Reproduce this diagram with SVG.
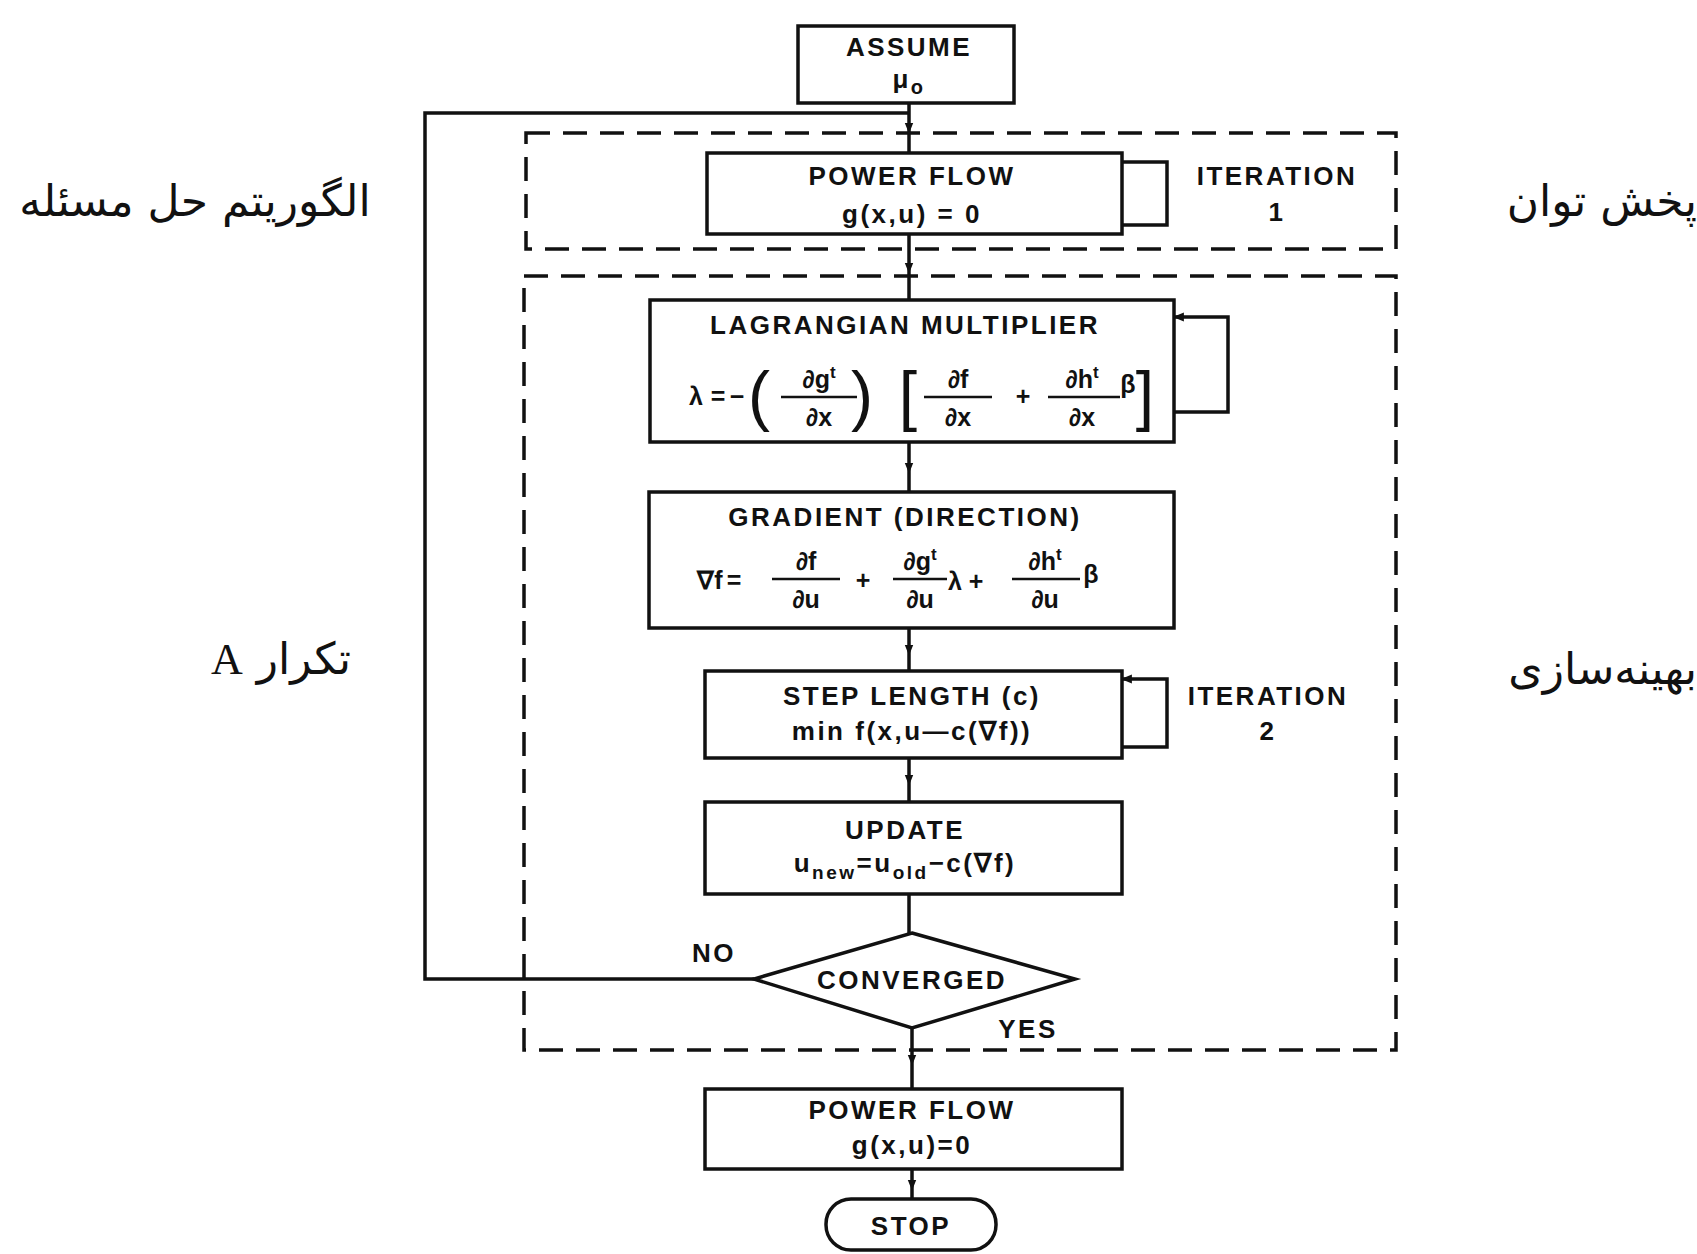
<svg xmlns="http://www.w3.org/2000/svg" width="1697" height="1254" viewBox="0 0 1697 1254">
<defs>
<marker id="ahm" viewBox="0 0 10 10" refX="5" refY="5" markerWidth="11" markerHeight="11" orient="auto" markerUnits="userSpaceOnUse">
<path d="M0,1 L10,5 L0,9 z" fill="#111"/>
</marker>
<marker id="ahl" viewBox="0 0 10 10" refX="9" refY="5" markerWidth="14" markerHeight="11" orient="auto" markerUnits="userSpaceOnUse">
<path d="M0,1 L10,5 L0,9 z" fill="#111"/>
</marker>
</defs>
<style>
.box{fill:#fff;stroke:#111;stroke-width:3.5}
.dash{fill:none;stroke:#111;stroke-width:3.5;stroke-dasharray:24 13}
.ln{fill:none;stroke:#111;stroke-width:3.5}
.t{font-family:"Liberation Sans",Arial,sans-serif;font-weight:bold;font-size:26px;letter-spacing:2.5px;fill:#111;text-anchor:middle}
.m{font-family:"Liberation Sans",Arial,sans-serif;font-weight:bold;font-size:25px;fill:#111;text-anchor:middle}
.d{font-family:"Liberation Sans",Arial,sans-serif;font-weight:normal;font-size:66px;fill:#111;text-anchor:middle}
.fl{stroke:#111;stroke-width:2.5}
.fa{font-family:"DejaVu Sans",sans-serif;font-size:44px;fill:#111}
</style>
<rect width="1697" height="1254" fill="#fff"/>

<g id="connectors">
<path class="ln" d="M909,103 L909,128 L909,153" marker-mid="url(#ahm)"/>
<path class="ln" d="M909,234 L909,268 L909,300" marker-mid="url(#ahm)"/>
<path class="ln" d="M909,442 L909,468 L909,492" marker-mid="url(#ahm)"/>
<path class="ln" d="M909,628 L909,650 L909,671" marker-mid="url(#ahm)"/>
<path class="ln" d="M909,758 L909,780 L909,802" marker-mid="url(#ahm)"/>
<path class="ln" d="M909,894 L909,914 L909,933"/>
<path class="ln" d="M912,1028 L912,1060 L912,1089" marker-mid="url(#ahm)"/>
<path class="ln" d="M912,1169 L912,1185 L912,1199" marker-mid="url(#ahm)"/>
<path class="ln" d="M754,979 L425,979 L425,113 L909,113"/>
<path class="ln" d="M1122,162 L1167,162 L1167,225 L1122,225"/>
<path class="ln" d="M1174,412 L1228,412 L1228,317 L1174,317" marker-end="url(#ahl)"/>
<path class="ln" d="M1122,747 L1167,747 L1167,679 L1122,679" marker-end="url(#ahl)"/>
</g>

<g id="group-iteration1">
<rect class="dash" x="526" y="133" width="870" height="116"/>
<text class="t" x="1277" y="185">ITERATION</text>
<text class="t" x="1277" y="221">1</text>
</g>
<g id="group-iteration2">
<rect class="dash" x="524" y="276" width="872" height="774"/>
<text class="t" x="1268" y="705">ITERATION</text>
<text class="t" x="1268" y="740">2</text>
</g>

<g id="assume">
<rect class="box" x="798" y="26" width="216" height="77"/>
<text class="t" x="909" y="56">ASSUME</text>
<text class="t" x="909" y="88" font-size="28">μ<tspan font-size="20" dy="6">o</tspan></text>
</g>

<g id="powerflow1">
<rect class="box" x="707" y="153" width="415" height="81"/>
<text class="t" x="912" y="185">POWER FLOW</text>
<text class="t" x="912" y="223">g(x,u) = 0</text>
</g>

<g id="lagrangian">
<rect class="box" x="650" y="300" width="524" height="142"/>
<text class="t" x="905" y="334">LAGRANGIAN MULTIPLIER</text>
<text class="m" x="696" y="405">λ</text>
<text class="m" x="718" y="405">=</text>
<text class="m" x="737" y="405">−</text>
<text class="d" x="759" y="418">(</text>
<text class="m" x="819" y="388">∂g<tspan font-size="17" dy="-10">t</tspan></text>
<line class="fl" x1="781" y1="397" x2="857" y2="397"/>
<text class="m" x="819" y="426">∂x</text>
<text class="d" x="862" y="418">)</text>
<text class="d" x="908" y="418">[</text>
<text class="m" x="958" y="388">∂f</text>
<line class="fl" x1="924" y1="397" x2="992" y2="397"/>
<text class="m" x="958" y="426">∂x</text>
<text class="m" x="1023" y="405">+</text>
<text class="m" x="1082" y="388">∂h<tspan font-size="17" dy="-10">t</tspan></text>
<line class="fl" x1="1048" y1="397" x2="1120" y2="397"/>
<text class="m" x="1082" y="426">∂x</text>
<text class="m" x="1128" y="393" font-weight="normal">β</text>
<text class="d" x="1145" y="418">]</text>
</g>

<g id="gradient">
<rect class="box" x="649" y="492" width="525" height="136"/>
<text class="t" x="905" y="526">GRADIENT (DIRECTION)</text>
<text class="m" x="710" y="589">∇f</text>
<text class="m" x="734" y="589">=</text>
<text class="m" x="806" y="570">∂f</text>
<line class="fl" x1="772" y1="579" x2="840" y2="579"/>
<text class="m" x="806" y="608">∂u</text>
<text class="m" x="863" y="589">+</text>
<text class="m" x="920" y="570">∂g<tspan font-size="17" dy="-10">t</tspan></text>
<line class="fl" x1="893" y1="579" x2="947" y2="579"/>
<text class="m" x="920" y="608">∂u</text>
<text class="m" x="955" y="590">λ</text>
<text class="m" x="976" y="590">+</text>
<text class="m" x="1045" y="570">∂h<tspan font-size="17" dy="-10">t</tspan></text>
<line class="fl" x1="1012" y1="579" x2="1080" y2="579"/>
<text class="m" x="1045" y="608">∂u</text>
<text class="m" x="1091" y="583" font-weight="normal">β</text>
</g>

<g id="steplength">
<rect class="box" x="705" y="671" width="417" height="87"/>
<text class="t" x="912" y="705">STEP LENGTH (c)</text>
<text class="t" x="912" y="740">min f(x,u—c(∇f))</text>
</g>

<g id="update">
<rect class="box" x="705" y="802" width="417" height="92"/>
<text class="t" x="905" y="839">UPDATE</text>
<text class="t" x="905" y="872">u<tspan font-size="19" dy="7">new</tspan><tspan dy="-7">=u</tspan><tspan font-size="19" dy="7">old</tspan><tspan dy="-7">−c(∇f)</tspan></text>
</g>

<g id="converged">
<polygon class="box" points="912,933 1075,979 912,1028 754,979"/>
<text class="t" x="912" y="989">CONVERGED</text>
<text class="t" x="714" y="962">NO</text>
<text class="t" x="1028" y="1038">YES</text>
</g>

<g id="powerflow2">
<rect class="box" x="705" y="1089" width="417" height="80"/>
<text class="t" x="912" y="1119">POWER FLOW</text>
<text class="t" x="912" y="1154">g(x,u)=0</text>
</g>

<g id="stop">
<rect class="box" x="826" y="1199" width="170" height="51" rx="25" ry="25"/>
<text class="t" x="911" y="1235">STOP</text>
</g>

<g id="labels">
<text class="fa" x="195" y="216" text-anchor="middle">الگوریتم حل مسئله</text>
<text class="fa" x="1697" y="216" text-anchor="end">پخش توان</text>
<text class="fa" x="281" y="674" text-anchor="middle" direction="rtl" font-size="38">تکرار <tspan font-family="Liberation Serif,serif">A</tspan></text>
<text class="fa" x="1697" y="684" text-anchor="end">بهینه‌سازی</text>
</g>
</svg>
